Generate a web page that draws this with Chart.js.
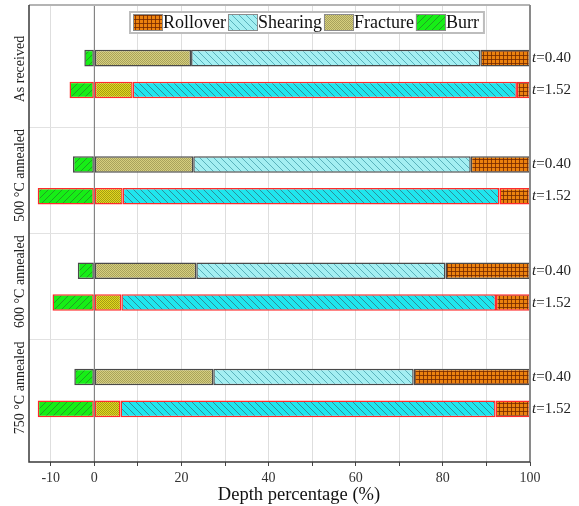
<!DOCTYPE html>
<html>
<head>
<meta charset="utf-8">
<script src="https://cdn.jsdelivr.net/npm/chart.js@4/dist/chart.umd.min.js"></script>
<style>
  html, body { margin: 0; padding: 0; background: #fff; }
  #wrap { width: 579px; height: 506px; position: relative; }
</style>
</head>
<body>
<div id="wrap"><canvas id="c"></canvas></div>
<script>
// Sample conditions (one row group each) and the two sheet thicknesses
const groups = ['As received', '500 °C annealed', '600 °C annealed', '750 °C annealed'];
const thicknessLabels = ['=0.40', '=1.52'];

// Depth percentages of each zone along the cut edge, thin sheet (t = 0.40)
const burrThin      = [-2.3, -4.9, -3.8, -4.6];
const fractureThin  = [22.2, 22.7, 23.4, 27.3];
const shearingThin  = [66.4, 63.7, 57.2, 46.0];
const rolloverThin  = [11.4, 13.6, 19.4, 26.7];

// Thick sheet (t = 1.52)
const burrThick     = [-5.7, -13.0, -9.6, -13.0];
const fractureThick = [8.8, 6.5, 6.2, 6.0];
const shearingThick = [88.2, 86.5, 86.0, 86.1];
const rolloverThick = [3.0, 7.0, 7.8, 7.9];

const xTicks = [-10, 0, 10, 20, 30, 40, 50, 60, 70, 80, 90, 100];
const FONT = '"Liberation Serif", "Times New Roman", serif';

// ---- hatch fills ----
function makePattern(size, draw) {
  const c = document.createElement('canvas');
  c.width = size; c.height = size;
  const g = c.getContext('2d');
  draw(g, size);
  return g.createPattern(c, 'repeat');
}
const pat = {
  rollover: makePattern(4, (g, s) => {
    g.fillStyle = '#EC820E'; g.fillRect(0, 0, s, s);
    g.fillStyle = 'rgba(115,40,0,0.8)';
    g.fillRect(3, 0, 1, s); g.fillRect(0, 3, s, 1);
  }),
  shearingStrong: makePattern(7, (g, s) => {
    g.fillStyle = '#1FE6EE'; g.fillRect(0, 0, s, s);
    g.strokeStyle = '#2E8E9A'; g.lineWidth = 1;
    g.beginPath(); g.moveTo(-1, -1); g.lineTo(s + 1, s + 1); g.stroke();
  }),
  shearingLight: makePattern(7, (g, s) => {
    g.fillStyle = '#A4EFF2'; g.fillRect(0, 0, s, s);
    g.strokeStyle = '#5AB2BC'; g.lineWidth = 1;
    g.beginPath(); g.moveTo(-1, -1); g.lineTo(s + 1, s + 1); g.stroke();
  }),
  fractureStrong: makePattern(2, (g, s) => {
    g.fillStyle = '#E4DA1C'; g.fillRect(0, 0, s, s);
    g.fillStyle = '#A39A16'; g.fillRect(0, 0, 1, 1); g.fillRect(1, 1, 1, 1);
  }),
  fractureLight: makePattern(2, (g, s) => {
    g.fillStyle = '#D6CF7E'; g.fillRect(0, 0, s, s);
    g.fillStyle = '#A8A25C'; g.fillRect(0, 0, 1, 1); g.fillRect(1, 1, 1, 1);
  }),
  burr: makePattern(7, (g, s) => {
    g.fillStyle = '#16EE16'; g.fillRect(0, 0, s, s);
    g.strokeStyle = '#22A022'; g.lineWidth = 1;
    g.beginPath(); g.moveTo(-1, s + 1); g.lineTo(s + 1, -1); g.stroke();
  })
};

const toPoints = arr => arr.map((v, i) => ({ x: v, y: i }));

function seg(label, values, fill, stack, border) {
  return {
    label, data: toPoints(values), stack,
    backgroundColor: fill, borderColor: border, borderWidth: 1.5,
    borderSkipped: false, categoryPercentage: 0.6, barPercentage: 0.52
  };
}
const THIN_BORDER = '#4A4A4A', THICK_BORDER = '#FF2A2A';

const datasets = [
  seg('Burr', burrThin, pat.burr, 'thin', THIN_BORDER),
  seg('Fracture', fractureThin, pat.fractureLight, 'thin', THIN_BORDER),
  seg('Shearing', shearingThin, pat.shearingLight, 'thin', THIN_BORDER),
  seg('Rollover', rolloverThin, pat.rollover, 'thin', THIN_BORDER),
  seg('Burr', burrThick, pat.burr, 'thick', THICK_BORDER),
  seg('Fracture', fractureThick, pat.fractureStrong, 'thick', THICK_BORDER),
  seg('Shearing', shearingThick, pat.shearingStrong, 'thick', THICK_BORDER),
  seg('Rollover', rolloverThick, pat.rollover, 'thick', THICK_BORDER)
];

const legendItems = [
  ['Rollover', pat.rollover],
  ['Shearing', pat.shearingLight],
  ['Fracture', pat.fractureLight],
  ['Burr', pat.burr]
];

// Frame, zero line, group names, thickness notes, legend and axis title
const decorations = {
  id: 'decorations',
  beforeDatasetsDraw(chart) {
    const { ctx, chartArea: a, scales: { x } } = chart;
    const x0 = x.getPixelForValue(0);
    ctx.save();
    ctx.strokeStyle = '#6E6E6E'; ctx.lineWidth = 1;
    ctx.beginPath(); ctx.moveTo(x0, a.top); ctx.lineTo(x0, a.bottom); ctx.stroke();
    ctx.restore();
  },
  afterDraw(chart) {
    const { ctx, chartArea: a, scales: { x, y } } = chart;
    ctx.save();
    // frame
    ctx.lineWidth = 2; ctx.strokeStyle = '#B4B4B4';
    ctx.beginPath(); ctx.moveTo(a.left, a.top); ctx.lineTo(a.right, a.top); ctx.stroke();
    ctx.strokeStyle = '#8A8A8A';
    ctx.beginPath(); ctx.moveTo(a.right, a.top); ctx.lineTo(a.right, a.bottom); ctx.stroke();
    ctx.lineWidth = 1.5; ctx.strokeStyle = '#3A3A3A';
    ctx.beginPath(); ctx.moveTo(a.left, a.top); ctx.lineTo(a.left, a.bottom); ctx.lineTo(a.right, a.bottom); ctx.stroke();

    // group names, rotated
    ctx.fillStyle = '#222';
    ctx.font = '14px ' + FONT;
    ctx.textAlign = 'center'; ctx.textBaseline = 'middle';
    groups.forEach((g, i) => {
      ctx.save();
      ctx.translate(20, y.getPixelForValue(i) - 5);
      ctx.rotate(-Math.PI / 2);
      ctx.fillText(g, 0, 0);
      ctx.restore();
    });

    // thickness notes at the right of each bar
    const metaThin = chart.getDatasetMeta(3), metaThick = chart.getDatasetMeta(7);
    ctx.textAlign = 'left';
    groups.forEach((g, i) => {
      [metaThin, metaThick].forEach((m, k) => {
        const yy = m.data[i].y;
        const xx = a.right + 2;
        ctx.font = 'italic 15px ' + FONT;
        ctx.fillText('t', xx, yy);
        const w = ctx.measureText('t').width;
        ctx.font = '15px ' + FONT;
        ctx.fillText(thicknessLabels[k], xx + w, yy);
      });
    });

    // legend
    const lx = 130, ly = 12, lh = 21, sw = 30, sh = 17;
    ctx.font = '18px ' + FONT;
    let total = 6;
    legendItems.forEach(([t]) => { total += sw + ctx.measureText(t).width + 2; });
    ctx.fillStyle = '#fff';
    ctx.fillRect(lx, ly, total, lh);
    ctx.strokeStyle = '#BDBDBD'; ctx.lineWidth = 2;
    ctx.strokeRect(lx, ly, total, lh);
    let cx = lx + 3;
    legendItems.forEach(([t, p]) => {
      ctx.fillStyle = p;
      ctx.fillRect(cx, ly + 2, sw, sh);
      ctx.strokeStyle = '#8C8C8C'; ctx.lineWidth = 1;
      ctx.strokeRect(cx + 0.5, ly + 2.5, sw - 1, sh - 1);
      ctx.fillStyle = '#111';
      ctx.textBaseline = 'middle';
      ctx.fillText(t, cx + sw, ly + lh / 2 + 1);
      cx += sw + ctx.measureText(t).width + 2;
    });

    // axis title
    ctx.font = '18.5px ' + FONT;
    ctx.fillStyle = '#111';
    ctx.textAlign = 'center';
    ctx.fillText('Depth percentage (%)', 299, 495);
    ctx.restore();
  }
};

new Chart(document.getElementById('c'), {
  type: 'bar',
  data: { datasets },
  plugins: [decorations],
  options: {
    indexAxis: 'y',
    responsive: true,
    maintainAspectRatio: false,
    animation: false,
    layout: { padding: { left: 29, right: 49, top: 5, bottom: 0 } },
    plugins: { legend: { display: false }, tooltip: { enabled: false } },
    scales: {
      x: {
        type: 'linear', stacked: true, min: -15, max: 100,
        afterBuildTicks: s => { s.ticks = xTicks.map(v => ({ value: v })); },
        afterFit: s => { s.height = 44; },
        ticks: {
          autoSkip: false, maxRotation: 0, padding: 4,
          color: '#333', font: { family: FONT, size: 14 },
          callback: v => (v === -10 || v % 20 === 0) ? String(v) : ''
        },
        grid: {
          color: ctx => (ctx.tick && ctx.tick.value === 0) ? 'rgba(0,0,0,0)' : 'rgba(0,0,0,0.13)',
          borderDash: [2, 2], tickLength: 4, tickColor: '#444', tickWidth: 1
        },
        border: { display: false }
      },
      y: {
        type: 'linear', reverse: true, min: -0.65, max: 3.65, offset: false,
        afterBuildTicks: s => { s.ticks = [0.5, 1.5, 2.5].map(v => ({ value: v })); },
        afterFit: s => { s.width = 0; },
        ticks: { display: false },
        grid: { color: '#E2E2E2', drawTicks: false, offset: false },
        border: { display: false }
      }
    }
  }
});
</script>
</body>
</html>
